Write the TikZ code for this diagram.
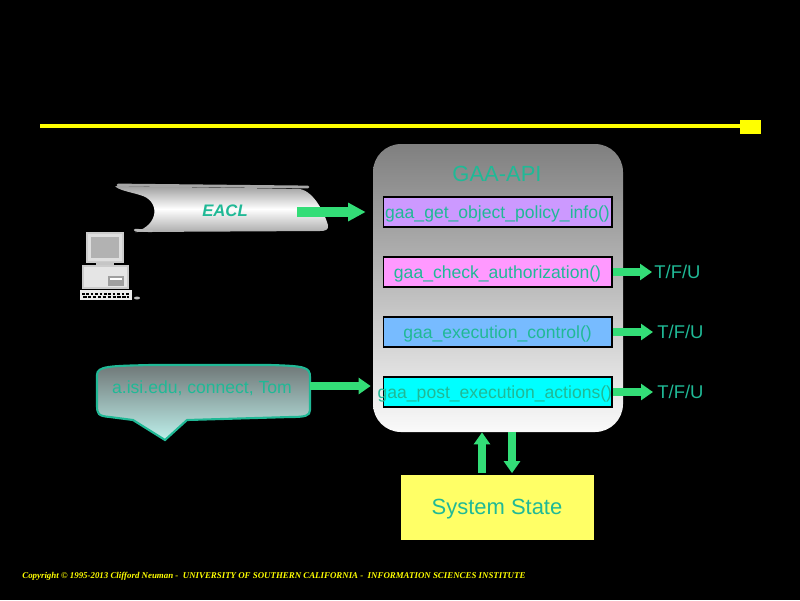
\documentclass[tikz,border=0pt]{standalone}
\usepackage{fontspec}
\setmainfont{Liberation Sans}
\newfontfamily\copyfont{Liberation Serif}
\usetikzlibrary{calc,arrows.meta}
\definecolor{gaateal}{RGB}{32,185,150}
\definecolor{gaagreen}{RGB}{51,221,119}
\definecolor{polpurple}{RGB}{204,153,255}
\definecolor{chkpink}{RGB}{255,153,255}
\definecolor{exeblue}{RGB}{119,187,255}
\definecolor{postcyan}{RGB}{0,255,255}
\definecolor{stateyellow}{RGB}{255,255,102}
\definecolor{bubbletop}{RGB}{112,120,120}
\definecolor{bubblebot}{RGB}{190,240,235}
\definecolor{slideyellow}{RGB}{255,255,0}

\begin{document}
\begin{tikzpicture}[x=0.02cm,y=-0.02cm,
	fnbox/.style={draw=black,line width=0.6pt,minimum width=4.58cm,minimum height=0.6cm,inner sep=0pt,text depth=0pt,text=gaateal,font=\fontsize{10}{12}\selectfont},
	tfu/.style={anchor=west,inner sep=0pt,text=gaateal,font=\fontsize{10.5}{12}\selectfont},
	fatarrow/.style={draw=gaagreen,line width=4.5pt,-{Triangle[length=6.8pt,width=9pt]}}]
			%%%%% START %%%%%
			\def\px{0.02cm}
			\def\ybar{126}
			
			\fill[black] (0,0) rectangle (800,600);
			\useasboundingbox (0,0) rectangle (800,600);
			
			% title bar
			\draw[slideyellow,line width=2.8pt] (40,\ybar) -- (745,\ybar);
			\fill[slideyellow] (740,120) rectangle (761,134);
			
			% GAA-API container
			\node[rounded corners=28*\px,top color=gray,bottom color=white!96!gray,minimum width=250*\px,minimum height=288*\px,inner sep=0pt] (api) at (498,288) {};
			\node[text=gaateal,font=\fontsize{12.5}{14}\selectfont] (title) at (497,174) {GAA-API};
			
			\node[fnbox,fill=polpurple] (info) at (497.5,212) {gaa\_get\_object\_policy\_info()};
			\node[fnbox,fill=chkpink] (chk) at (497.5,272) {gaa\_check\_authorization()};
			\node[fnbox,fill=exeblue] (exe) at (497.5,332) {gaa\_execution\_control()};
			\node[fnbox,fill=postcyan] (post) at (497.5,392) {\makebox[0pt]{\hspace*{-3pt}gaa\_post\_execution\_actions()}};
			
			\node[tfu] (chkout) at (654,272) {T/F/U};
			\node[tfu] (exeout) at (657,332) {T/F/U};
			\node[tfu] (postout) at (657,392) {T/F/U};
			\draw[fatarrow] (chk.east) -- ($(chkout.west)+(-2,0)$);
			\draw[fatarrow] (exe.east) -- ($(exeout.west)+(-4,0)$);
			\draw[fatarrow] (post.east) -- ($(postout.west)+(-4,0)$);
			
			% system state
			\node[fill=stateyellow,minimum width=193*\px,minimum height=65*\px,inner sep=0pt,text depth=0pt,text=gaateal,font=\fontsize{12.5}{14}\selectfont] (state) at (497,507) {System State};
			\draw[fatarrow] ($(state.north)+(-15,-1)$) -- ($(api.south)+(-16,0)$);
			\draw[fatarrow] ($(api.south)+(14,0)$) -- ($(state.north)+(15,-1)$);
			
			% EACL scroll
			\shade[top color=gray!75,bottom color=gray!65,middle color=white] (115,186) .. controls (170,187) and (250,188) .. (300,189) .. controls (315,192) and (325,215) .. (328,225) .. controls (329,230) and (325,231) .. (320,231) -- (135,232) .. controls (160,225) and (160,200) .. (140,195) .. controls (130,192) and (118,190) .. (115,186) -- cycle;
			\draw[gray!70,line width=1.6pt,line cap=round] (118,185) -- (308,187);
			\draw[gray!55,line width=1.4pt,line cap=round] (135,230) -- (152,231);
			\node[text=gaateal,font=\fontsize{9.5}{11}\selectfont\bfseries\itshape] (eacl) at (225,211) {EACL};
			\coordinate (eaclstart) at (297,212);
			\draw[draw=gaagreen,line width=5.7pt,-{Triangle[length=10pt,width=10pt]}] (eaclstart) -- ($(api.west |- eaclstart)+(-7,0)$);
			
			% computer
			\draw[gray!40,fill=gray!25,line width=0.6pt] (87,233) rectangle (123,262);
			\fill[gray!60] (91,237) rectangle (119,258);
			\fill[gray!45] (96,262) rectangle (114,266);
			\draw[gray!40,fill=gray!20,line width=0.6pt] (83,266) rectangle (128,288);
			\fill[gray!75] (108,276) rectangle (124,286);
			\fill[white] (110,278) rectangle (122,280);
			\fill[gray!15] (80,290) rectangle (132,300);
			\draw[black,line width=0.8pt,dash pattern=on 1.5pt off 1pt] (82,294) -- (130,294);
			\draw[black,line width=0.8pt,dash pattern=on 2pt off 0.8pt] (83,297) -- (129,297);
			\fill[gray!50] (137,298) ellipse (3 and 1.5);
			
			% request bubble
			\shade[top color=bubbletop,bottom color=bubblebot] (97,375) .. controls (97,366) and (110,366) .. (150,365) -- (270,365) .. controls (305,366) and (310,367) .. (310,377) -- (310,410) .. controls (310,416) and (305,417) .. (290,417) -- (187,420) -- (165,440) -- (133,420) -- (110,417) .. controls (98,416) and (97,414) .. (97,405) -- cycle;
			\draw[gaateal,line width=1.2pt] (97,375) .. controls (97,366) and (110,366) .. (150,365) -- (270,365) .. controls (305,366) and (310,367) .. (310,377) -- (310,410) .. controls (310,416) and (305,417) .. (290,417) -- (187,420) -- (165,440) -- (133,420) -- (110,417) .. controls (98,416) and (97,414) .. (97,405) -- cycle;
			\node[text=gaateal,font=\fontsize{10}{12}\selectfont] (req) at (202,388) {a.isi.edu, connect, Tom};
			\coordinate (reqstart) at (310,386);
			\draw[fatarrow] (reqstart) -- ($(api.west |- reqstart)+(-2,0)$);
			
			% footer
			\node[anchor=base west,inner sep=0pt,text=slideyellow,font=\copyfont\fontsize{5.05}{6}\selectfont\bfseries\itshape] (copy) at (22,578) {Copyright © 1995-2013 Clifford Neuman - \ UNIVERSITY OF SOUTHERN CALIFORNIA - \ INFORMATION SCIENCES INSTITUTE};
			%%%%% END %%%%%
		\end{tikzpicture}
\end{document}
